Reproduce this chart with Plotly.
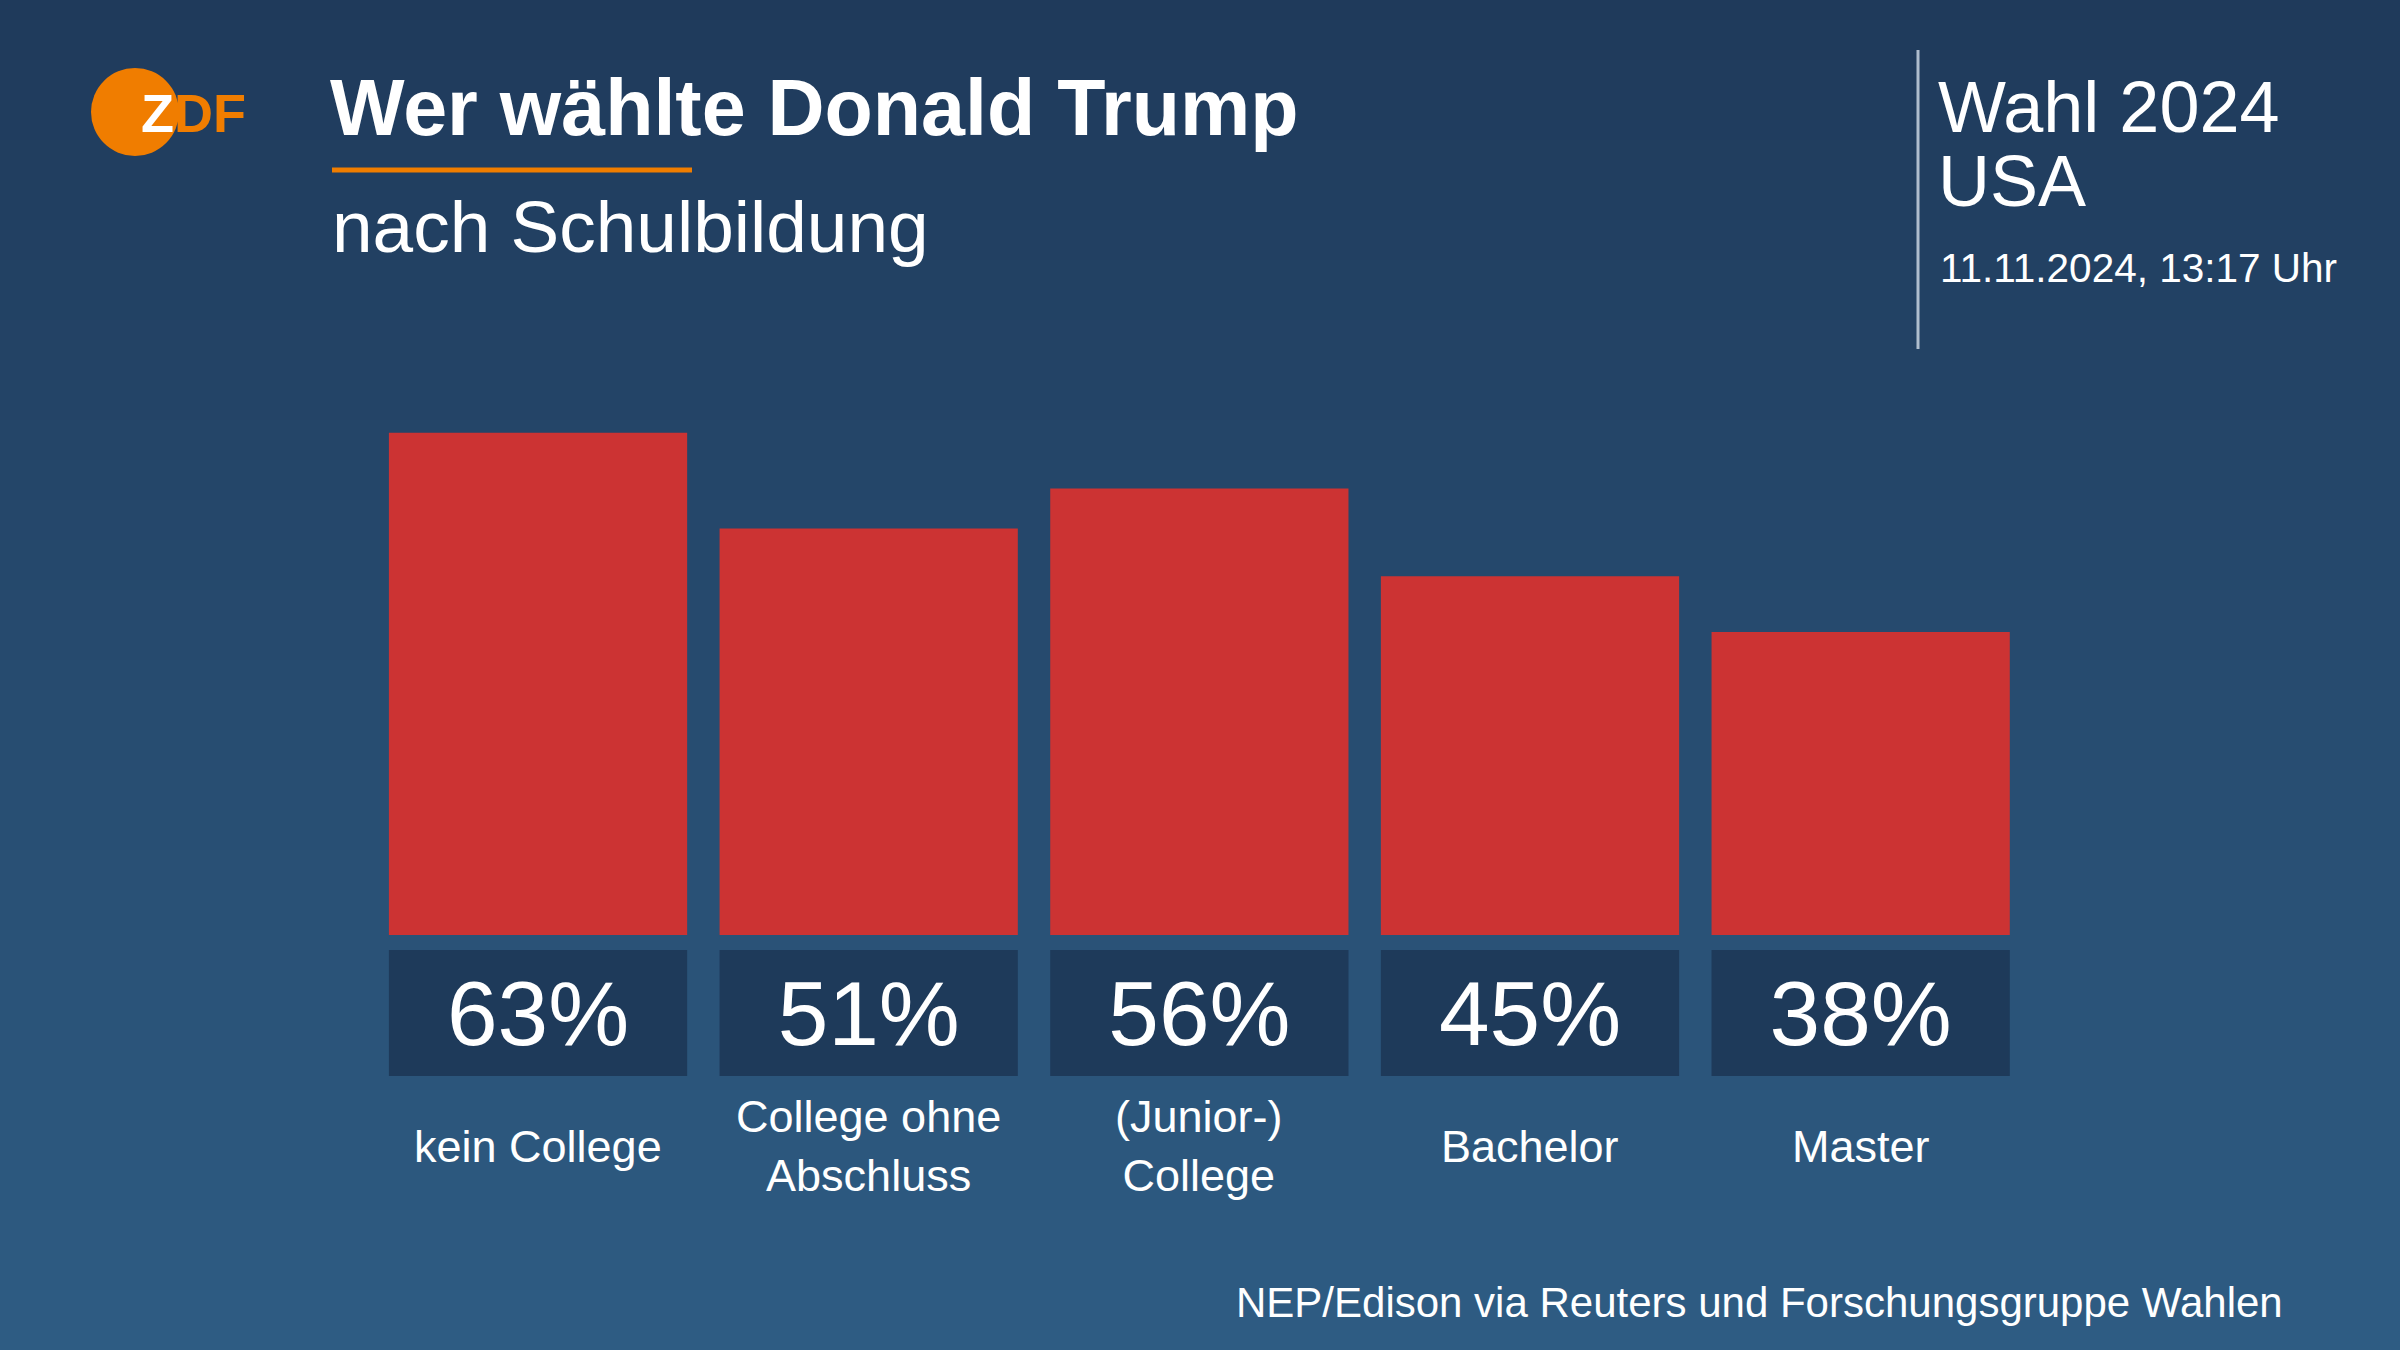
import plotly.graph_objects as go

# ---- data ----
categories = ["kein College", "College ohne Abschluss", "(Junior-) College", "Bachelor", "Master"]
category_labels = ["kein College", "College ohne<br>Abschluss", "(Junior-)<br>College", "Bachelor", "Master"]
values = [63, 51, 56, 45, 38]
value_labels = ["63%", "51%", "56%", "45%", "38%"]

title = "Wer wählte Donald Trump"
subtitle = "nach Schulbildung"
source = "NEP/Edison via Reuters und Forschungsgruppe Wahlen"

W, H = 2400, 1350
FONT = "Liberation Sans, Arial, sans-serif"
RED = "#cc3333"
NAVY = "#1e3a5a"
ORANGE = "#f07d00"

def py(ytop):
    return 1 - ytop / H

def px(x):
    return x / W

fig = go.Figure()

# main bars
fig.add_trace(go.Bar(
    x=categories, y=values, marker=dict(color=RED, line=dict(width=0)),
    xaxis="x", yaxis="y", hoverinfo="skip", showlegend=False,
))
# value boxes
fig.add_trace(go.Bar(
    x=categories, y=[1] * len(categories), marker=dict(color=NAVY, line=dict(width=0)),
    text=value_labels, textposition="inside", insidetextanchor="middle",
    textfont=dict(family=FONT, size=91, color="white"), textangle=0,
    xaxis="x", yaxis="y2", hoverinfo="skip", showlegend=False,
))

# gradient background bands
shapes = []
n = 135
top = (31, 58, 91)
bot = (46, 92, 131)
for i in range(n):
    t = i / (n - 1)
    c = tuple(round(top[k] + (bot[k] - top[k]) * t) for k in range(3))
    shapes.append(dict(type="rect", xref="paper", yref="paper", x0=0, x1=1,
                       y0=1 - (i + 1) / n - 0.001, y1=1 - i / n,
                       fillcolor="rgb(%d,%d,%d)" % c, line=dict(width=0), layer="below"))

# logo circle
shapes.append(dict(type="circle", xref="paper", yref="paper",
                   x0=px(91), x1=px(179), y0=py(156), y1=py(68),
                   fillcolor=ORANGE, line=dict(width=0)))
# orange underline
shapes.append(dict(type="line", xref="paper", yref="paper",
                   x0=px(332), x1=px(692), y0=py(170), y1=py(170),
                   line=dict(color=ORANGE, width=5)))
# vertical divider
shapes.append(dict(type="line", xref="paper", yref="paper",
                   x0=px(1918), x1=px(1918), y0=py(50), y1=py(349),
                   line=dict(color="rgba(200,212,225,0.85)", width=3)))

annotations = []
def ann(text, x, y, size, xanchor="left", color="white", family=FONT, yanchor="middle"):
    annotations.append(dict(text=text, x=x, y=y, xref="paper", yref="paper",
                            xanchor=xanchor, yanchor=yanchor, showarrow=False,
                            font=dict(family=family, size=size, color=color)))

ann("<b><span style='color:white'>Z</span><span style='color:%s'>DF</span></b>" % ORANGE,
    px(139), py(113), 54)
ann("<b>" + title + "</b>", px(328), py(108), 79)
ann(subtitle, px(330), py(226), 73)
ann("Wahl 2024", px(1936), py(107), 72)
ann("USA", px(1936), py(181), 72)
ann("11.11.2024, 13:17 Uhr", px(1938), py(268), 40.5)
ann(source, px(2285), py(1302), 42, xanchor="right")

for cat, lab in zip(categories, category_labels):
    annotations.append(dict(text=lab, x=cat, y=py(1146), xref="x", yref="paper",
                            xanchor="center", yanchor="middle", showarrow=False,
                            font=dict(family=FONT, size=45, color="white")))

fig.update_layout(
    width=W, height=H,
    margin=dict(l=0, r=0, t=0, b=0),
    paper_bgcolor="rgb(38,74,110)",
    plot_bgcolor="rgba(0,0,0,0)",
    bargap=0.098,
    showlegend=False,
    xaxis=dict(domain=[px(372.7), px(2026)], range=[-0.5, 4.5], visible=False,
               fixedrange=True),
    yaxis=dict(domain=[py(935), py(377)], range=[0, 70], visible=False),
    yaxis2=dict(domain=[py(1076), py(950)], range=[0, 1], visible=False, anchor="x"),
    shapes=shapes,
    annotations=annotations,
    uniformtext=dict(mode=False),
)

fig.write_html("out.html", config={"displayModeBar": False},
               post_script="document.body.style.margin='0';document.body.style.overflow='hidden';")
